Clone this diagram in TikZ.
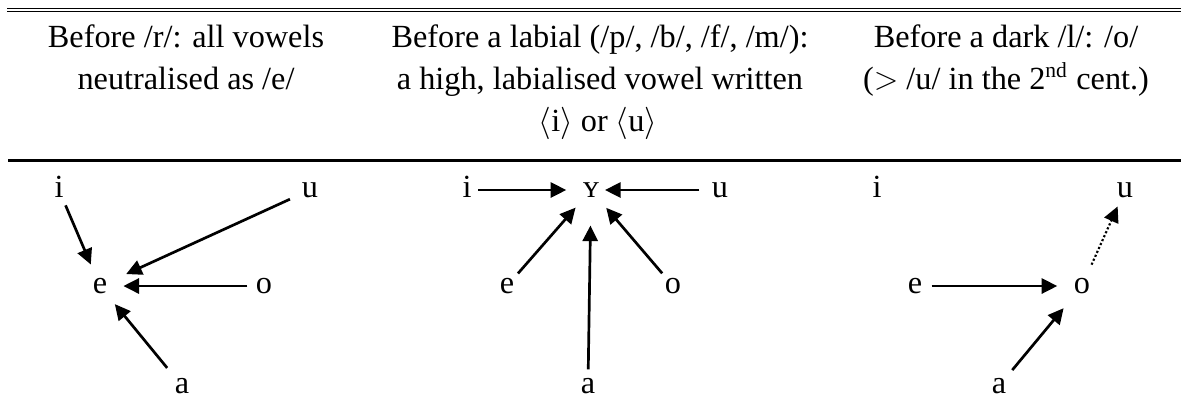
\documentclass[tikz,border=0pt]{standalone}
\usepackage{fontspec}
\setmainfont{Liberation Serif}
\usetikzlibrary{arrows.meta}

\begin{document}
\begin{tikzpicture}[x=0.3717pt, y=-0.3717pt, >={Triangle[length=5.8pt,width=5.6pt]},
  vow/.style={circle, inner sep=0pt, minimum size=12pt, text height=5.5pt, text depth=0pt, font=\fontsize{12}{14}\selectfont},
  hd/.style={anchor=base, inner sep=0pt, font=\fontsize{12}{14}\selectfont},
  arr/.style={line width=1pt, ->, shorten >=2.5pt}]
 			\useasboundingbox (0,0) rectangle (1181,400);
 			
 			% rules of the table
 			\draw[line width=0.7pt] (7,8.5) -- (1181,8.5);
 			\draw[line width=0.5pt] (7,11.8) -- (1181,11.8);
 			\draw[line width=0.8pt] (8,160.5) -- (1181,160.5);
 			
 			% header
 			\path 
 			(186,47) node[hd] (h1a) {Before /r/: all vowels}
 			(186,89) node[hd] (h1b) {neutralised as /e/}
 			(600,47) node[hd] (h2a) {Before a labial (/p/, /b/, /f/, /m/):}
 			(600,89) node[hd] (h2b) {a high, labialised vowel written}
 			(598,131) node[hd] (h2c) {$\langle$i$\rangle$ or $\langle$u$\rangle$}
 			(1006,47) node[hd] (h3a) {Before a dark /l/: /o/}
 			(1006,89) node[hd] (h3b) {($>$ /u/ in the 2\textsuperscript{nd} cent.)}
 			;
 			
 			% vowels
 			\path 
 			(59,190) node[vow] (i1) {i}
 			(310,190) node[vow] (u1) {u}
 			(100,286) node[vow] (e1) {e}
 			(264,286) node[vow] (o1) {o}
 			(182,386) node[vow] (a1) {a}
 			(467,190) node[vow] (i2) {i}
 			(591,190) node[vow] (y2) {ʏ}
 			(720,190) node[vow] (u2) {u}
 			(507,286) node[vow] (e2) {e}
 			(673,286) node[vow] (o2) {o}
 			(588,386) node[vow] (a2) {a}
 			(877,190) node[vow] (i3) {i}
 			(1125,190) node[vow] (u3) {u}
 			(915,286) node[vow] (e3) {e}
 			(1082,286) node[vow] (o3) {o}
 			(999,386) node[vow] (a3) {a}
 			;
 			
 			\draw[arr] (i1) to (e1);
 			\draw[arr, shorten >=4.5pt, shorten <=2pt] (u1) to (e1);
 			\draw[arr] (o1) to (e1);
 			\draw[arr, shorten <=2.5pt] (a1) to (e1);
 			
 			\draw[arr, shorten >=3pt, shorten <=-2pt] (i2) to (y2);
 			\draw[arr, shorten >=-1pt, shorten <=1.5pt] (u2) to (y2);
 			\draw[arr] (e2) to (y2);
 			\draw[arr, shorten >=7pt] (a2) to (y2);
 			\draw[arr] (o2) to (y2);
 			
 			\draw[arr, shorten >=3pt] (e3) to (o3);
 			\draw[arr, shorten >=4.5pt, shorten <=1.5pt] (a3) to (o3);
 			\draw[arr, line width=0.8pt, dash pattern=on 0.8pt off 0.8pt, shorten >=0.5pt, shorten <=2.5pt] (o3) to (u3);
 			
 		\end{tikzpicture}
\end{document}
